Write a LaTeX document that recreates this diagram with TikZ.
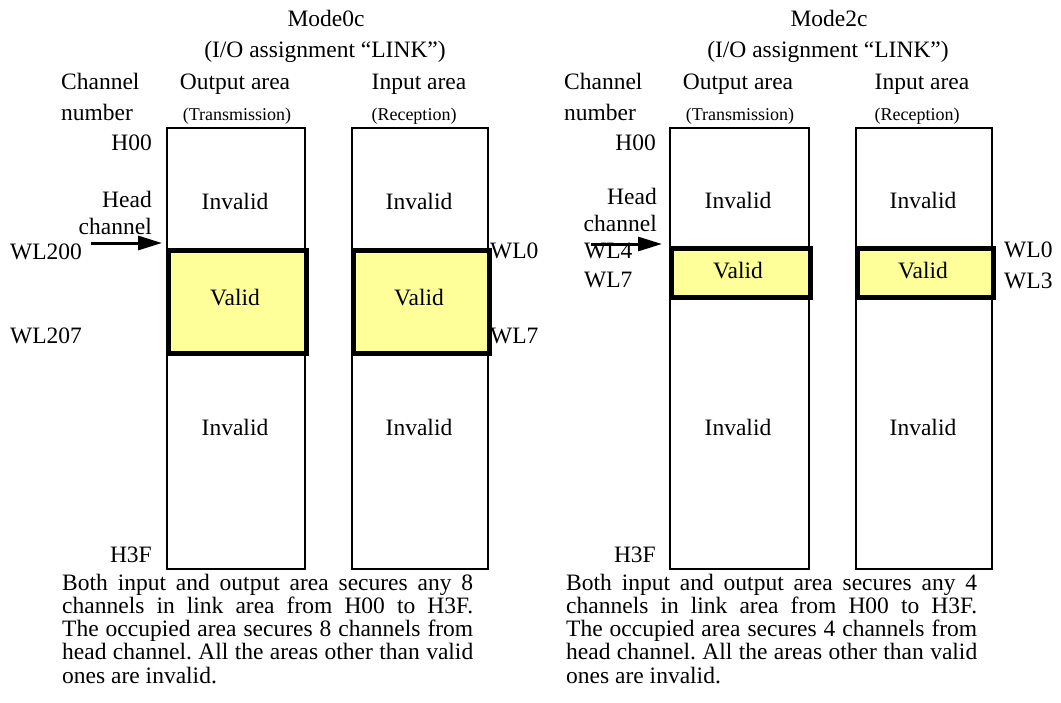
\documentclass[tikz,border=0pt]{standalone}
\usepackage{fontspec}
\setmainfont{Liberation Serif}
\usetikzlibrary{arrows.meta}
\definecolor{validfill}{RGB}{255,255,153}
\begin{document}
\begin{tikzpicture}[x=1pt,y=1pt,
  txt/.style={inner sep=0pt,font=\fontsize{23.5}{23.5}\selectfont},
  small/.style={inner sep=0pt,font=\fontsize{18}{18}\selectfont},
  areabox/.style={draw,line width=2,inner sep=0pt,anchor=north west},
  validbox/.style={draw,line width=5,fill=validfill,inner sep=0pt,anchor=north west},
  headarrow/.style={line width=3,-{Triangle[length=24pt,width=14pt]}},
  para/.style={inner sep=0pt,anchor=base west,text width=411pt,align=justify,
    font=\fontsize{23.5}{23.3}\selectfont}]
\useasboundingbox (0,0) rectangle (1061,-702);

% ---------- Mode0c ----------
\node[txt,anchor=base] (t0a) at (326,-26) {Mode0c};
\node[txt,anchor=base] (t0b) at (325,-57) {(I/O assignment “LINK”)};
\node[txt,anchor=base west] (ch0a) at (61,-89) {Channel};
\node[txt,anchor=base west] (ch0b) at (61,-120) {number};
\node[txt,anchor=base] (oa0) at (235,-89) {Output area};
\node[small,anchor=base] (tr0) at (237,-120) {(Transmission)};
\node[txt,anchor=base] (ia0) at (419,-89) {Input area};
\node[small,anchor=base] (re0) at (414,-120) {(Reception)};

\node[areabox,minimum width=138,minimum height=441] (out0) at (166,-127) {};
\node[areabox,minimum width=136,minimum height=441] (in0) at (351,-127) {};
\node[validbox,minimum width=138,minimum height=102.5] (vout0) at (166,-248) {};
\node[validbox,minimum width=136,minimum height=102.5] (vin0) at (351,-248) {};

\node[txt,anchor=base] (iu0o) at (235,-209) {Invalid};
\node[txt,anchor=base] (iu0i) at (419,-209) {Invalid};
\node[txt,anchor=base] (v0o) at (235,-305) {Valid};
\node[txt,anchor=base] (v0i) at (419,-305) {Valid};
\node[txt,anchor=base] (il0o) at (235,-435) {Invalid};
\node[txt,anchor=base] (il0i) at (419,-435) {Invalid};

\node[txt,anchor=base east] (h00a) at (152,-150) {H00};
\node[txt,anchor=base east] (hd0a) at (152,-207) {Head};
\node[txt,anchor=base east] (hd0b) at (152,-234) {channel};
\node[txt,anchor=base west] (wl200) at (10,-259) {WL200};
\node[txt,anchor=base west] (wl207) at (10,-343) {WL207};
\node[txt,anchor=base west] (wl0a) at (490,-258) {WL0};
\node[txt,anchor=base west] (wl7a) at (490,-343) {WL7};
\node[txt,anchor=base east] (h3fa) at (152,-562) {H3F};

\coordinate (arr0) at (91,-243);
\draw[headarrow] (arr0) -- ([xshift=-4,yshift=5]vout0.north west);

\node[para] (p0) at (62,-590) {\frenchspacing\hyphenpenalty=10000
Both input and output area secures any 8\linebreak
channels in link area from H00 to H3F.\linebreak
The occupied area secures 8 channels from\linebreak
head channel. All the areas other than valid\linebreak
ones are invalid.};

% ---------- Mode2c ----------
\node[txt,anchor=base] (t2a) at (829,-26) {Mode2c};
\node[txt,anchor=base] (t2b) at (828,-57) {(I/O assignment “LINK”)};
\node[txt,anchor=base west] (ch2a) at (564,-89) {Channel};
\node[txt,anchor=base west] (ch2b) at (564,-120) {number};
\node[txt,anchor=base] (oa2) at (738,-89) {Output area};
\node[small,anchor=base] (tr2) at (740,-120) {(Transmission)};
\node[txt,anchor=base] (ia2) at (922,-89) {Input area};
\node[small,anchor=base] (re2) at (917,-120) {(Reception)};

\node[areabox,minimum width=139,minimum height=441] (out2) at (669,-127) {};
\node[areabox,minimum width=136,minimum height=441] (in2) at (855,-127) {};
\node[validbox,minimum width=139,minimum height=49] (vout2) at (669,-246) {};
\node[validbox,minimum width=136,minimum height=49] (vin2) at (855,-246) {};

\node[txt,anchor=base] (iu2o) at (738,-208) {Invalid};
\node[txt,anchor=base] (iu2i) at (923,-208) {Invalid};
\node[txt,anchor=base] (v2o) at (738,-278) {Valid};
\node[txt,anchor=base] (v2i) at (923,-278) {Valid};
\node[txt,anchor=base] (il2o) at (738,-435) {Invalid};
\node[txt,anchor=base] (il2i) at (923,-435) {Invalid};

\node[txt,anchor=base east] (h00b) at (656,-150) {H00};
\node[txt,anchor=base east] (hd2a) at (657,-204) {Head};
\node[txt,anchor=base east] (hd2b) at (657,-231) {channel};
\node[txt,anchor=base west] (wl4) at (584,-258) {WL4};
\node[txt,anchor=base west] (wl7b) at (584,-287) {WL7};
\node[txt,anchor=base west] (wl0b) at (1004,-257) {WL0};
\node[txt,anchor=base west] (wl3) at (1004,-288) {WL3};
\node[txt,anchor=base east] (h3fb) at (656,-562) {H3F};

\coordinate (arr2) at (591,-244);
\draw[headarrow] (arr2) -- ([xshift=-7,yshift=2]vout2.north west);

\node[para] (p2) at (566,-590) {\frenchspacing\hyphenpenalty=10000
Both input and output area secures any 4\linebreak
channels in link area from H00 to H3F.\linebreak
The occupied area secures 4 channels from\linebreak
head channel. All the areas other than valid\linebreak
ones are invalid.};
\end{tikzpicture}
\end{document}
